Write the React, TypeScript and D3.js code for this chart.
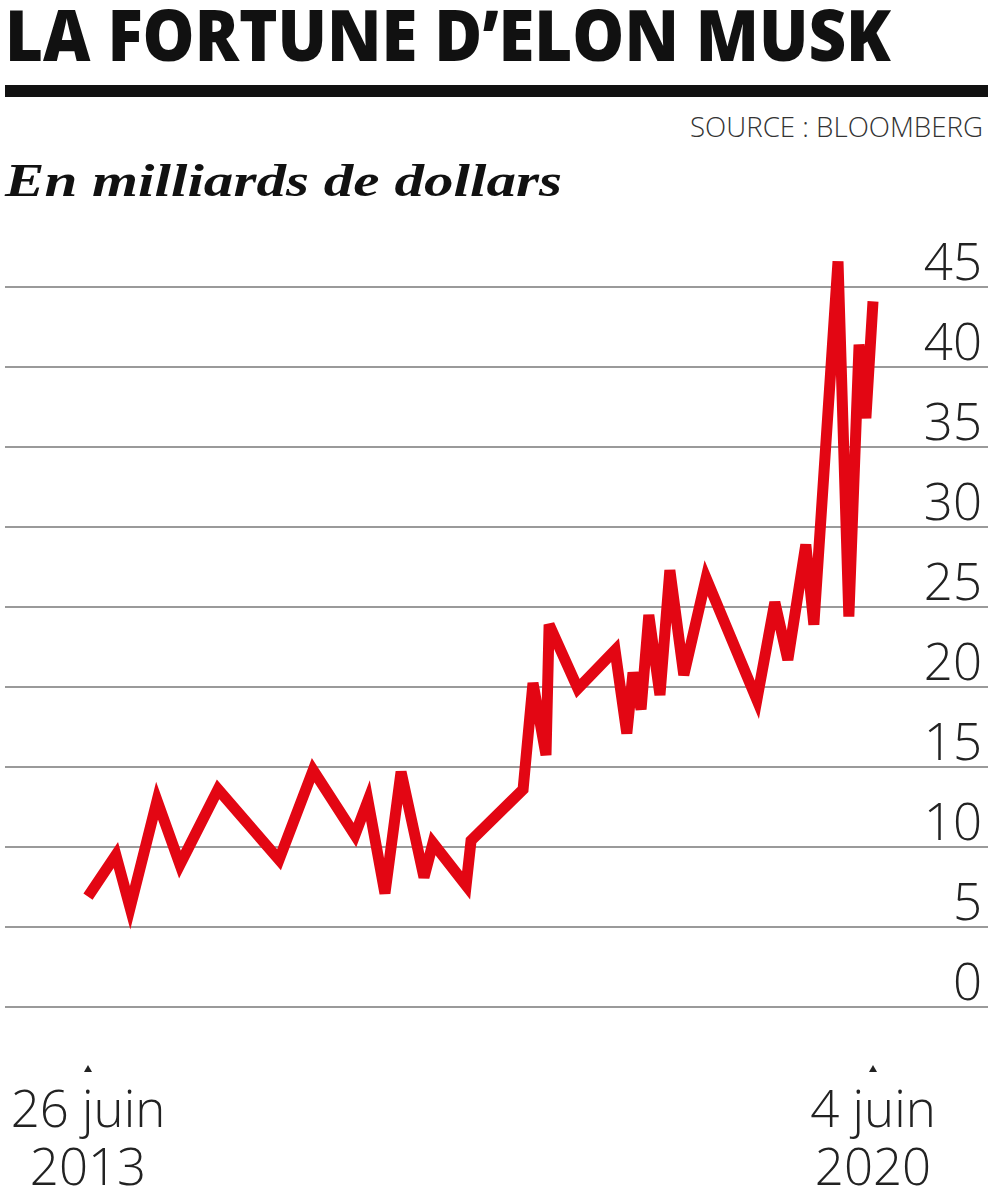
import React from "react";
import * as d3 from "d3";

const dates: string[] = [
  "2013-06-26", "2013-09-24", "2013-11-09", "2014-02-04", "2014-04-19", "2014-08-20",
  "2015-03-05", "2015-06-23", "2015-11-05", "2015-12-17", "2016-02-10", "2016-04-02",
  "2016-06-15", "2016-07-14", "2016-10-29", "2016-11-14", "2017-05-01", "2017-06-02",
  "2017-07-14", "2017-07-24", "2017-10-25", "2018-02-22", "2018-04-01", "2018-04-21",
  "2018-05-17", "2018-06-11", "2018-07-17", "2018-08-18", "2018-10-02", "2018-12-13",
  "2019-05-26", "2019-07-23", "2019-09-03", "2019-10-31", "2019-11-26", "2020-02-12",
  "2020-03-18", "2020-04-20", "2020-05-12", "2020-06-04",
];
const fortune: number[] = [
  6.9, 9.5, 6.2, 12.9, 8.9, 13.6,
  9.2, 14.8, 10.75, 12.9, 7.1, 14.7,
  8.1, 10.25, 7.6, 10.4, 13.6, 20.25,
  15.75, 23.9, 19.9, 22.3, 17.1, 20.9,
  18.6, 24.5, 19.5, 27.3, 20.75, 26.8,
  19.2, 25.3, 21.7, 28.9, 23.9, 46.6,
  24.4, 41.4, 36.8, 44.1,
];
const yTicks: number[] = [0, 5, 10, 15, 20, 25, 30, 35, 40, 45];
const xLabels = [
  { date: "2013-06-26", line1: "26 juin", line2: "2013" },
  { date: "2020-06-04", line1: "4 juin", line2: "2020" },
];

const parse = d3.timeParse("%Y-%m-%d");

export default function App() {
  const W = 988;
  const H = 1200;
  const x = d3
    .scaleTime()
    .domain([parse("2013-06-26") as Date, parse("2020-06-04") as Date])
    .range([88, 873]);
  const y = d3.scaleLinear().domain([0, 45]).range([1007, 287]);
  const data = dates.map((d, i) => ({ d: parse(d) as Date, v: fortune[i] }));
  const line = d3
    .line<{ d: Date; v: number }>()
    .x((p) => x(p.d))
    .y((p) => y(p.v));

  const sans = "'Open Sans', 'Noto Sans', sans-serif";

  return (
    <svg
      width={W}
      height={H}
      viewBox={`0 0 ${W} ${H}`}
      style={{ position: "absolute", left: 0, top: 0, background: "#fff" }}
    >
      <text
        x={5}
        y={61}
        fontFamily={sans}
        fontWeight={800}
        fontSize={70}
        fill="#111"
        textLength={886}
        lengthAdjust="spacingAndGlyphs"
      >
        LA FORTUNE D’ELON MUSK
      </text>
      <rect x={5} y={85} width={983} height={12} fill="#111" />
      <text
        x={983}
        y={137}
        textAnchor="end"
        fontFamily={sans}
        fontWeight={300}
        fontSize={27}
        fill="#333"
        textLength={293}
        lengthAdjust="spacingAndGlyphs"
      >
        SOURCE : BLOOMBERG
      </text>
      <text
        x={5}
        y={196}
        fontFamily="'Liberation Serif', 'DejaVu Serif', serif"
        fontWeight={700}
        fontStyle="italic"
        fontSize={46}
        fill="#111"
        textLength={557}
        lengthAdjust="spacingAndGlyphs"
      >
        En milliards de dollars
      </text>

      {yTicks.map((t) => (
        <g key={t}>
          <line x1={5} x2={988} y1={y(t)} y2={y(t)} stroke="#9a9a9a" strokeWidth={2} />
          <text
            x={982}
            y={y(t) - 7}
            textAnchor="end"
            fontFamily={sans}
            fontWeight={300}
            fontSize={51}
            fill="#222"
          >
            {t}
          </text>
        </g>
      ))}

      <path
        d={line(data) || ""}
        fill="none"
        stroke="#e30613"
        strokeWidth={11}
        strokeLinejoin="miter"
        strokeMiterlimit={4}
      />

      {xLabels.map((l) => {
        const px = x(parse(l.date) as Date);
        return (
          <g key={l.date}>
            <path d={`M${px - 4},1072 L${px + 4},1072 L${px},1065 Z`} fill="#222" />
            <text
              textAnchor="middle"
              fontFamily={sans}
              fontWeight={300}
              fontSize={51}
              fill="#222"
            >
              <tspan x={px} y={1127}>{l.line1}</tspan>
              <tspan x={px} y={1185}>{l.line2}</tspan>
            </text>
          </g>
        );
      })}
    </svg>
  );
}
